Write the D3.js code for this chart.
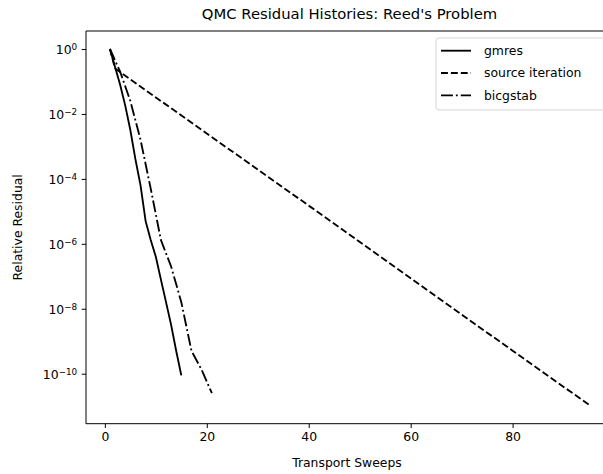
<!DOCTYPE html>
<meta charset="utf-8">
<head>
  <script src="https://cdn.jsdelivr.net/npm/d3@7"></script>
  <style>
    body { margin: 0; background: #fff; }
    text { font-family: "DejaVu Sans", sans-serif; fill: #000; }
    .axis path, .axis line { fill: none; stroke: #000; }
    .axis text { font-size: 12.4px; }
  </style>
</head>
<body>
<script>

// Datos (residuo relativo por barrido)
var gmresX = [1, 2, 3, 4, 5, 6, 7, 8, 9, 10, 11, 12, 13, 14, 15];
var gmresY = [1, 2.8e-1, 7.9e-2, 1.8e-2, 3.2e-3, 4.0e-4, 6.3e-5, 5.0e-6, 1.3e-6, 4.0e-7, 7.9e-8, 1.6e-8, 3.2e-9, 5.0e-10, 8.9e-11];

var siX = [1, 2, 20, 40, 60, 80, 95];
var siY = [1, 2.5e-1, 2.5e-3, 1.5e-5, 8.7e-8, 5.1e-10, 1.1e-11];

var bicgX = [1, 3, 5, 7, 9, 11, 13, 15, 17, 19, 21];
var bicgY = [1, 2.0e-1, 2.5e-2, 1.6e-3, 5.0e-5, 1.3e-6, 2.0e-7, 1.6e-8, 5.0e-10, 1.3e-10, 2.5e-11];

var xTicks = [0, 20, 40, 60, 80];
var yTicks = [0, -2, -4, -6, -8, -10];

var seriesNames = ["gmres", "source iteration", "bicgstab"];

// Dimensiones (el eje derecho queda fuera de la imagen, como en el original)
var W = 603, H = 474;
var mLeft = 86, mRight = 613, mTop = 31, mBottom = 423.7;

var svg = d3.select("body").append("svg")
  .attr("width", W)
  .attr("height", H);

// Escalas
var xScale = d3.scaleLinear().domain([-3.7, 99.7]).range([mLeft, mRight]);
var yScale = d3.scaleLog().domain([Math.pow(10, 0.554), Math.pow(10, -11.54)]).range([mTop, mBottom]);

// Eje x
var xAxis = d3.axisBottom(xScale)
  .tickValues(xTicks)
  .tickSize(4.3)
  .tickPadding(4.5)
  .tickSizeOuter(0);

svg.append("g")
  .attr("class", "axis")
  .attr("transform", "translate(0," + mBottom + ")")
  .call(xAxis)
  .select(".domain").remove();

// Eje y (etiquetas 10^n con superindice)
var yAxis = d3.axisLeft(yScale)
  .tickValues(yTicks.map(function(e) { return Math.pow(10, e); }))
  .tickSize(4.3)
  .tickPadding(4.5)
  .tickSizeOuter(0)
  .tickFormat("");

var gy = svg.append("g")
  .attr("class", "axis")
  .attr("transform", "translate(" + mLeft + ",0)")
  .call(yAxis);
gy.select(".domain").remove();

gy.selectAll(".tick").each(function(d, i) {
  var t = d3.select(this).select("text")
    .attr("dy", "0.35em");
  var e = yTicks[i];
  t.append("tspan").text("10");
  t.append("tspan")
    .attr("dy", "-0.45em")
    .style("font-size", "8.8px")
    .text(e === 0 ? "0" : "\u2212" + Math.abs(e));
});

// Marco de los ejes
svg.append("path")
  .attr("d", "M" + mRight + "," + mTop + "H" + mLeft + "V" + mBottom + "H" + mRight)
  .attr("fill", "none")
  .attr("stroke", "#000")
  .attr("stroke-width", 1);

// Lineas
var series = [
  { x: gmresX, y: gmresY, dash: null },
  { x: siX, y: siY, dash: "6.9,3" },
  { x: bicgX, y: bicgY, dash: "11.9,3,1.85,3" }
];

var line = d3.line()
  .x(function(d) { return xScale(d[0]); })
  .y(function(d) { return yScale(d[1]); });

series.forEach(function(s) {
  var pts = s.x.map(function(v, i) { return [v, s.y[i]]; });
  svg.append("path")
    .attr("d", line(pts))
    .attr("fill", "none")
    .attr("stroke", "#000")
    .attr("stroke-width", 1.85)
    .attr("stroke-dasharray", s.dash);
});

// Titulo y etiquetas
svg.append("text")
  .attr("x", (mLeft + mRight) / 2)
  .attr("y", 19)
  .attr("text-anchor", "middle")
  .style("font-size", "14.8px")
  .text("QMC Residual Histories: Reed's Problem");

svg.append("text")
  .attr("x", 347)
  .attr("y", 467)
  .attr("text-anchor", "middle")
  .style("font-size", "12.4px")
  .text("Transport Sweeps");

svg.append("text")
  .attr("transform", "translate(22," + (mTop + mBottom) / 2 + ") rotate(-90)")
  .attr("text-anchor", "middle")
  .style("font-size", "12.4px")
  .text("Relative Residual");

// Leyenda
var lg = svg.append("g");
lg.append("rect")
  .attr("x", 436)
  .attr("y", 38)
  .attr("width", 172)
  .attr("height", 72)
  .attr("rx", 3)
  .attr("fill", "rgba(255,255,255,0.8)")
  .attr("stroke", "#d5d5d5")
  .attr("stroke-width", 1);

seriesNames.forEach(function(name, i) {
  var yy = 50.7 + i * 22.3;
  lg.append("line")
    .attr("x1", 441).attr("x2", 471)
    .attr("y1", yy).attr("y2", yy)
    .attr("stroke", "#000")
    .attr("stroke-width", 1.85)
    .attr("stroke-dasharray", series[i].dash);
  lg.append("text")
    .attr("x", 484)
    .attr("y", yy)
    .attr("dy", "0.35em")
    .style("font-size", "12.4px")
    .text(name);
});

</script>
</body>
